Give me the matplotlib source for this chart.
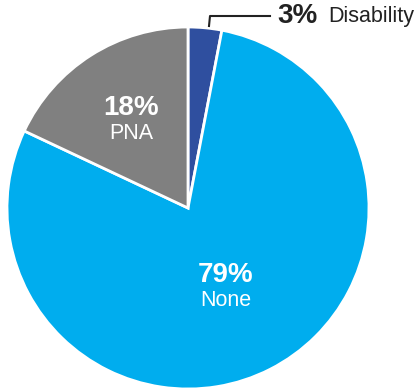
import matplotlib
matplotlib.use("Agg")
from matplotlib import pyplot as plt

plt.rcParams['font.family'] = ['Liberation Sans', 'DejaVu Sans']

labels = ["Disability", "None", "PNA"]
shares = [3, 79, 18]
colors = ["#2f4f9f", "#00adee", "#808080"]

fig = plt.figure(figsize=(4.18, 3.89), dpi=100)
ax = fig.add_axes([0, 0, 1, 1])

cx, cy, r = 188, 181, 181
ax.pie(shares, colors=colors, startangle=90, counterclock=False,
       center=(cx, cy), radius=r, frame=True,
       wedgeprops=dict(edgecolor="white", linewidth=2))
ax.set_xlim(0, 418)
ax.set_ylim(0, 389)
ax.set_aspect("equal")
ax.axis("off")

# inside labels
ax.text(131, 389 - 108, f"{shares[2]}%", color="white", fontsize=20, fontweight="bold",
        ha="center", va="center")
ax.text(131, 389 - 133, labels[2], color="white", fontsize=15.5, ha="center", va="center")
ax.text(226, 389 - 275, f"{shares[1]}%", color="white", fontsize=20, fontweight="bold",
        ha="center", va="center")
ax.text(226, 389 - 300, labels[1], color="white", fontsize=15.5, ha="center", va="center")

# leader for small slice
ax.plot([209, 210, 270], [389 - 26, 389 - 16, 389 - 16], color="#222222", lw=1.5)
ax.text(277, 389 - 16, f"{shares[0]}%", color="#222222", fontsize=20, fontweight="bold",
        ha="left", va="center")
ax.text(328, 389 - 16, labels[0], color="#222222", fontsize=15.5, ha="left", va="center")

fig.savefig("out.png", dpi=100)
